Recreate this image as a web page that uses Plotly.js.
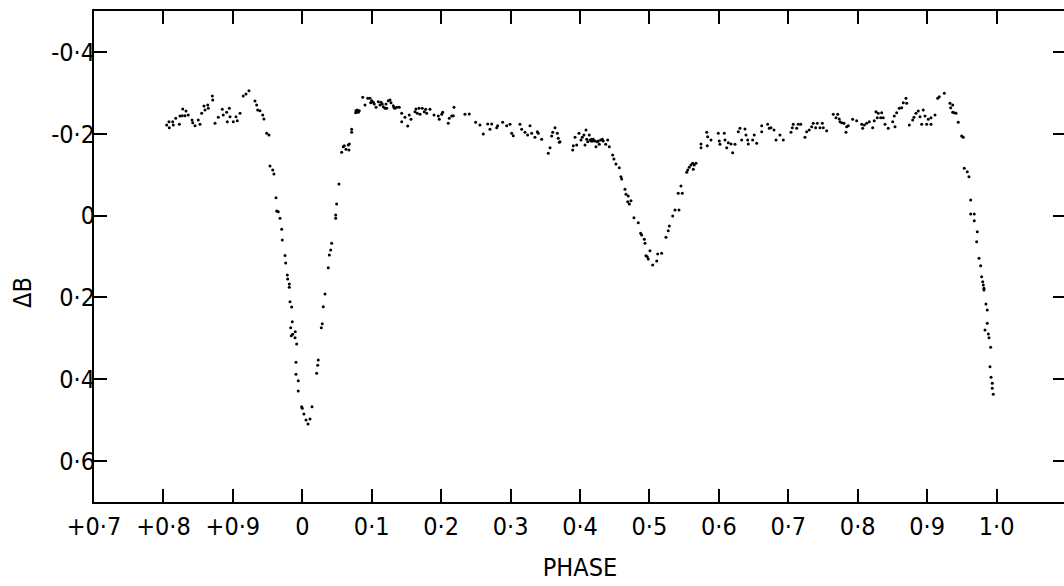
<!DOCTYPE html>
<html>
<head>
<meta charset="utf-8">
<script src="https://cdn.plot.ly/plotly-3.0.1.min.js"></script>
<style>
html,body{margin:0;padding:0;overflow:hidden;background:#fff;}
#chart{width:1066px;height:586px;}
</style>
</head>
<body>
<div id="chart"></div>
<script>
// Phase values (negative = previous cycle, labelled +0.7, +0.8, +0.9)
const phase = [
-0.1953,-0.1920,-0.1916,-0.1867,-0.1858,-0.1823,-0.1771,-0.1761,-0.1728,-0.1722,-0.1689,-0.1675,-0.1642,-0.1588,-0.1578,-0.1545,-0.1498,-0.1473,-0.1449,-0.1416,
-0.1401,-0.1362,-0.1354,-0.1296,-0.1290,-0.1257,-0.1210,-0.1152,-0.1138,-0.1089,-0.1080,-0.1051,-0.1041,-0.0994,-0.0955,-0.0936,-0.0897,-0.0850,-0.0811,-0.0768,
-0.0681,-0.0657,-0.0642,-0.0609,-0.0570,-0.0552,-0.0513,-0.0480,-0.0465,-0.0426,-0.0408,-0.0379,-0.0369,-0.0346,-0.0321,-0.0297,-0.0288,-0.0249,-0.0239,-0.0216,
-0.0210,-0.0187,-0.0187,-0.0177,-0.0153,-0.0144,-0.0167,-0.0101,-0.0138,-0.0158,-0.0105,-0.0081,-0.0091,-0.0091,-0.0058,-0.0058,-0.0009,0.0000,0.0024,0.0053,
0.0082,0.0111,0.0140,0.0207,0.0222,0.0230,0.0274,0.0288,0.0302,0.0327,0.0374,0.0389,0.0409,0.0423,0.0481,0.0481,0.0495,0.0528,0.0567,0.0590,
0.0605,0.0629,0.0662,0.0677,0.0672,0.0711,0.0711,0.0769,0.0773,0.0792,0.0807,0.0821,0.0870,0.0903,0.0942,0.0975,0.0985,0.1000,0.1023,0.1037,
0.1062,0.1095,0.1119,0.1134,0.1152,0.1167,0.1191,0.1206,0.1216,0.1239,0.1263,0.1278,0.1311,0.1321,0.1335,0.1360,0.1397,0.1432,0.1432,0.1479,
0.1518,0.1541,0.1566,0.1623,0.1637,0.1656,0.1681,0.1695,0.1728,0.1757,0.1777,0.1791,0.1839,0.1897,0.1959,0.1973,0.2008,0.2022,0.2103,0.2117,
0.2152,0.2185,0.2175,0.2343,0.2405,0.2497,0.2559,0.2607,0.2670,0.2703,0.2728,0.2800,0.2814,0.2886,0.2944,0.2992,0.3016,0.3039,0.3135,0.3160,
0.3207,0.3246,0.3280,0.3304,0.3351,0.3385,0.3399,0.3448,0.3543,0.3568,0.3592,0.3607,0.3640,0.3673,0.3687,0.3702,0.3712,0.3895,0.3903,0.3928,
0.3952,0.3985,0.4014,0.4033,0.4057,0.4072,0.4086,0.4096,0.4111,0.4133,0.4144,0.4158,0.4168,0.4183,0.4191,0.4216,0.4230,0.4249,0.4263,0.4278,
0.4298,0.4321,0.4335,0.4370,0.4399,0.4422,0.4471,0.4489,0.4518,0.4566,0.4590,0.4600,0.4648,0.4662,0.4695,0.4687,0.4710,0.4734,0.4777,0.4839,
0.4874,0.4888,0.4926,0.4936,0.4950,0.4969,0.4983,0.5008,0.5047,0.5105,0.5119,0.5176,0.5238,0.5271,0.5286,0.5335,0.5368,0.5426,0.5415,0.5454,
0.5473,0.5537,0.5551,0.5574,0.5598,0.5623,0.5632,0.5646,0.5671,0.5743,0.5743,0.5825,0.5833,0.5839,0.5887,0.5992,0.6006,0.6016,0.6078,0.6088,
0.6113,0.6136,0.6175,0.6199,0.6232,0.6280,0.6304,0.6329,0.6376,0.6391,0.6415,0.6424,0.6487,0.6510,0.6545,0.6617,0.6617,0.6703,0.6726,0.6750,
0.6794,0.6823,0.6880,0.6928,0.7039,0.7058,0.7072,0.7121,0.7144,0.7179,0.7240,0.7265,0.7302,0.7337,0.7360,0.7394,0.7418,0.7457,0.7490,0.7504,
0.7553,0.7648,0.7687,0.7712,0.7734,0.7745,0.7769,0.7802,0.7831,0.7841,0.7864,0.7927,0.7985,0.8057,0.8071,0.8095,0.8129,0.8167,0.8215,0.8238,
0.8263,0.8282,0.8296,0.8331,0.8345,0.8368,0.8393,0.8440,0.8504,0.8527,0.8537,0.8561,0.8599,0.8633,0.8656,0.8695,0.8705,0.8743,0.8792,0.8810,
0.8839,0.8872,0.8897,0.8921,0.8944,0.8969,0.8993,0.9016,0.9055,0.9055,0.9113,0.9152,0.9175,0.9247,0.9329,0.9339,0.9368,0.9368,0.9391,0.9415,
0.9448,0.9497,0.9520,0.9535,0.9578,0.9602,0.9627,0.9627,0.9679,0.9679,0.9722,0.9713,0.9747,0.9771,0.9785,0.9800,0.9809,0.9818,0.9818,0.9847,
0.9866,0.9866,0.9833,0.9881,0.9891,0.9915,0.9905,0.9920,0.9938,0.9938,0.9952
];
// Delta B (mag) values, one per phase value
const deltaB = [
-0.2214,-0.2295,-0.2148,-0.2295,-0.2214,-0.2378,-0.2231,-0.2434,-0.2442,-0.2605,-0.2442,-0.2556,-0.2459,-0.2336,-0.2270,-0.2197,-0.2336,-0.2231,-0.2500,-0.2679,
-0.2581,-0.2703,-0.2622,-0.2923,-0.2825,-0.2256,-0.2402,-0.2598,-0.2459,-0.2525,-0.2295,-0.2622,-0.2417,-0.2295,-0.2417,-0.2319,-0.2500,-0.2923,-0.2972,-0.3053,
-0.2801,-0.2703,-0.2581,-0.2564,-0.2459,-0.2361,-0.2011,-0.1970,-0.1212,-0.1114,-0.1017,-0.0437,-0.0112,-0.0095,0.0066,0.0335,0.0596,0.0975,0.1158,0.1452,
0.1549,0.1672,0.1752,0.2104,0.2234,0.2593,0.2740,0.2837,0.2901,0.2935,0.2984,0.3138,0.3585,0.3879,0.4035,0.4287,0.4670,0.4709,0.4849,0.4996,
0.5093,0.4971,0.4670,0.3854,0.3659,0.3529,0.2740,0.2642,0.2226,0.1916,0.1273,0.0963,0.0841,0.0677,0.0066,-0.0015,-0.0284,-0.0772,-0.1547,-0.1684,
-0.1708,-0.1620,-0.1725,-0.1750,-0.1603,-0.2036,-0.2109,-0.2515,-0.2564,-0.2581,-0.2525,-0.2564,-0.2891,-0.2703,-0.2867,-0.2867,-0.2759,-0.2808,-0.2769,-0.2727,
-0.2647,-0.2784,-0.2703,-0.2769,-0.2727,-0.2662,-0.2622,-0.2727,-0.2622,-0.2808,-0.2825,-0.2759,-0.2686,-0.2637,-0.2622,-0.2647,-0.2647,-0.2500,-0.2295,-0.2402,
-0.2190,-0.2459,-0.2353,-0.2539,-0.2605,-0.2500,-0.2622,-0.2476,-0.2622,-0.2539,-0.2598,-0.2500,-0.2598,-0.2459,-0.2434,-0.2353,-0.2476,-0.2525,-0.2256,-0.2378,
-0.2434,-0.2647,-0.2442,-0.2476,-0.2483,-0.2280,-0.2214,-0.1994,-0.2239,-0.2109,-0.2239,-0.2148,-0.2197,-0.2280,-0.2197,-0.2231,-0.2011,-0.1953,-0.2231,-0.2109,
-0.2036,-0.1970,-0.2197,-0.2011,-0.1914,-0.2050,-0.2011,-0.1865,-0.1523,-0.1659,-0.1945,-0.2036,-0.2148,-0.2011,-0.1889,-0.1791,-0.1806,-0.1603,-0.1708,-0.1914,
-0.1725,-0.2011,-0.1848,-0.1914,-0.1970,-0.1725,-0.2092,-0.1865,-0.1806,-0.1970,-0.1848,-0.1823,-0.1865,-0.1823,-0.1865,-0.1823,-0.1684,-0.1806,-0.1823,-0.1743,
-0.1848,-0.1865,-0.1823,-0.1743,-0.1848,-0.1684,-0.1481,-0.1383,-0.1261,-0.1171,-0.0951,-0.0894,-0.0643,-0.0521,-0.0479,-0.0340,-0.0284,-0.0364,0.0051,0.0174,
0.0433,0.0474,0.0579,0.0677,0.0980,0.1004,0.1061,0.0858,0.1207,0.1110,0.0938,0.0921,0.0530,0.0369,0.0254,0.0010,-0.0137,-0.0137,-0.0545,-0.0723,
-0.0545,-0.1058,-0.1114,-0.1180,-0.1237,-0.1278,-0.1132,-0.1237,-0.1278,-0.1750,-0.1659,-0.2036,-0.1708,-0.1928,-0.1848,-0.2011,-0.1823,-0.1743,-0.2011,-0.1848,
-0.1659,-0.1782,-0.1750,-0.1537,-0.1743,-0.2050,-0.2134,-0.1848,-0.2116,-0.1970,-0.1848,-0.1750,-0.1848,-0.1970,-0.1767,-0.2197,-0.2050,-0.2231,-0.2134,-0.2148,
-0.2092,-0.1848,-0.1970,-0.1848,-0.2036,-0.2148,-0.2231,-0.2134,-0.2231,-0.2231,-0.1914,-0.2050,-0.2092,-0.2173,-0.2256,-0.2148,-0.2256,-0.2148,-0.2256,-0.2148,
-0.2075,-0.2476,-0.2393,-0.2476,-0.2361,-0.2295,-0.2270,-0.2256,-0.2036,-0.2173,-0.2197,-0.2353,-0.2319,-0.2231,-0.2134,-0.2214,-0.2256,-0.2295,-0.2148,-0.2319,
-0.2539,-0.2393,-0.2500,-0.2393,-0.2515,-0.2393,-0.2231,-0.2134,-0.2295,-0.2434,-0.2173,-0.2515,-0.2622,-0.2637,-0.2759,-0.2867,-0.2745,-0.2214,-0.2336,-0.2402,
-0.2500,-0.2556,-0.2417,-0.2231,-0.2581,-0.2434,-0.2231,-0.2353,-0.2393,-0.2231,-0.2459,-0.2867,-0.2906,-0.2989,-0.2745,-0.2637,-0.2703,-0.2525,-0.2515,-0.2500,
-0.2280,-0.1945,-0.1914,-0.1156,-0.1073,-0.0951,-0.0381,-0.0039,-0.0039,0.0125,0.0393,0.0638,0.1043,0.1224,0.1493,0.1615,0.1696,0.1777,0.1818,0.2160,
0.2307,0.2632,0.2796,0.2894,0.2984,0.3219,0.3693,0.3952,0.4098,0.4221,0.4367
];

const xTickVals = [-0.3,-0.2,-0.1,0,0.1,0.2,0.3,0.4,0.5,0.6,0.7,0.8,0.9,1.0];
const xTickText = ['+0·7','+0·8','+0·9','0','0·1','0·2','0·3','0·4','0·5','0·6','0·7','0·8','0·9','1·0'];
const yTickVals = [-0.4,-0.2,0,0.2,0.4,0.6];
const yTickText = ['-0·4','-0·2','0','0·2','0·4','0·6'];

const FONT = '"Liberation Sans Narrow","DejaVu Sans Condensed","Liberation Sans",sans-serif';

const trace = {
  x: phase, y: deltaB, type: 'scatter', mode: 'markers',
  marker: {color: '#000', size: 3},
  hoverinfo: 'skip'
};

const layout = {
  width: 1066, height: 586,
  margin: {l: 94, r: 0, t: 11, b: 84, pad: 0},
  paper_bgcolor: '#fff', plot_bgcolor: '#fff',
  showlegend: false,
  font: {family: FONT, size: 25, color: '#000'},
  xaxis: {
    range: [-0.3, 1.1], tickmode: 'array', tickvals: xTickVals, ticktext: xTickText,
    ticks: 'inside', ticklen: 13, tickwidth: 2, tickcolor: '#000',
    showline: true, linecolor: '#000', linewidth: 2, mirror: 'ticks',
    showgrid: false, zeroline: false,
    tickfont: {family: FONT, size: 25, color: '#000'},
    ticklabelstandoff: 1,
    title: {text: 'PHASE', font: {family: FONT, size: 25, color: '#000'}, standoff: 18}
  },
  yaxis: {
    range: [0.7, -0.5], tickmode: 'array', tickvals: yTickVals, ticktext: yTickText,
    ticks: 'inside', ticklen: 13, tickwidth: 2, tickcolor: '#000',
    showline: true, linecolor: '#000', linewidth: 2, mirror: 'ticks',
    showgrid: false, zeroline: false,
    tickfont: {family: FONT, size: 25, color: '#000'},
    ticklabelstandoff: -8
  },
  annotations: [{
    text: 'ΔB', textangle: -90, showarrow: false,
    xref: 'paper', yref: 'paper', x: -0.073, y: 0.426,
    xanchor: 'center', yanchor: 'middle',
    font: {family: FONT, size: 25, color: '#000'}
  }]
};

Plotly.newPlot('chart', [trace], layout, {staticPlot: true, displayModeBar: false});
</script>
</body>
</html>
